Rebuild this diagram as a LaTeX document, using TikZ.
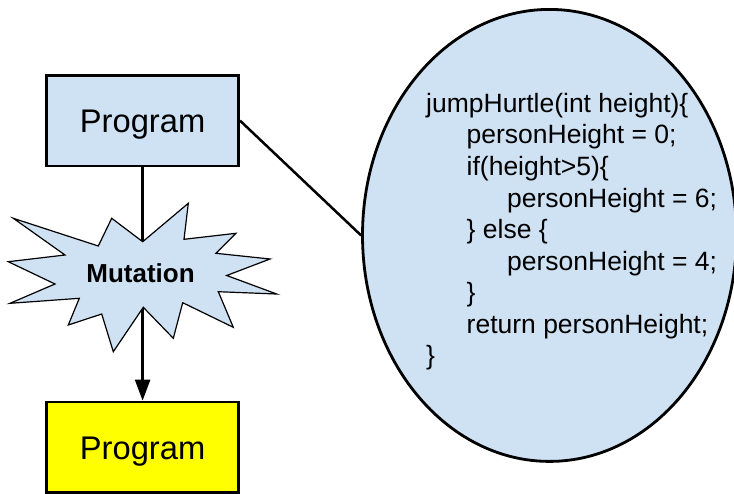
\documentclass[tikz,border=0pt]{standalone}
\usepackage{fontspec}
\setmainfont{Liberation Sans}
\usetikzlibrary{shapes.geometric,arrows.meta}
\definecolor{lightblue}{HTML}{CFE2F3}
\definecolor{brightyellow}{HTML}{FFFF00}
\tikzset{
  progbox/.style={draw, rectangle, line width=2.7pt, minimum width=192.2pt,
    minimum height=90.7pt, inner sep=0pt, text height=24.5pt, text depth=0pt,
    font=\fontsize{32.7}{39}\selectfont},
  burst/.style={draw, fill=lightblue, line width=1.2pt},
  codeline/.style={anchor=base west, inner sep=0pt, font=\fontsize{26.5}{31.5}\selectfont},
  link/.style={line width=2.5pt},
}
\begin{document}
\begin{tikzpicture}[x=1pt,y=-1pt]
\useasboundingbox (0,0) rectangle (734,493);
% ellipse with code
\node[draw, ellipse, fill=lightblue, line width=2.8pt, minimum width=374pt,
  minimum height=452pt, inner sep=0pt] (ell) at (549.5,235.4) {};
\node[codeline] (c1) at (426,112.3) {jumpHurtle(int height)\{};
\node[codeline] (c2) at (466.5,143.9) {personHeight = 0;};
\node[codeline] (c3) at (466.5,175.4) {if(height>5)\{};
\node[codeline] (c4) at (507,207.0) {personHeight = 6;};
\node[codeline] (c5) at (466.5,238.6) {\} else \{};
\node[codeline] (c6) at (507,270.2) {personHeight = 4;};
\node[codeline] (c7) at (466.5,301.7) {\}};
\node[codeline] (c8) at (466.5,333.3) {return personHeight;};
\node[codeline] (c9) at (426,364.9) {\}};
% boxes
\node[progbox, fill=lightblue] (top) at (142.6,120.65) {Program};
\node[progbox, fill=brightyellow] (bot) at (142.6,447.35) {Program};
% connectors
\draw[link] (top.east) -- (ell.west);
\draw[link, -{Triangle[length=21pt,width=15pt]}] (top.south) -- (bot.north);
% starburst
\draw[burst] (142.7,241.7) -- (188.3,203.3) -- (184,239.3) -- (236,233.3)
  -- (216,253.3) -- (270,259) -- (226.7,275.5) -- (276.7,294) -- (218.3,291.7)
  -- (233.3,327.3) -- (182.7,302.7) -- (173.3,338.3) -- (143.3,307.3)
  -- (113.3,351.7) -- (101.7,314) -- (68.3,325) -- (79.3,298.3) -- (10,303.3)
  -- (55,284) -- (8.3,261.7) -- (65,255) -- (13.3,218.3) -- (98.3,246)
  -- (111.7,218.3) -- cycle;
\node[anchor=base, inner sep=0pt, font=\fontsize{26}{31}\selectfont\bfseries] (mut) at (140.5,282.7) {Mutation};
\end{tikzpicture}
\end{document}
